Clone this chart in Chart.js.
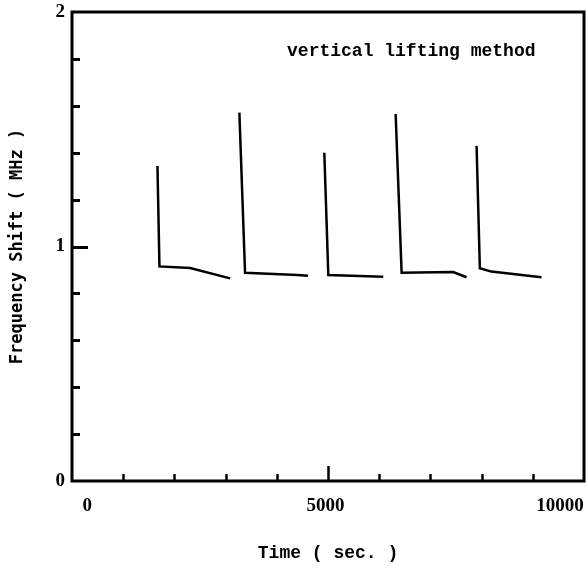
<!DOCTYPE html>
<html>
<head>
<meta charset="utf-8">
<script src="https://cdn.jsdelivr.net/npm/chart.js@4"></script>
<style>
  html, body { margin: 0; padding: 0; background: #fff; }
  #wrap { width: 587px; height: 570px; }
</style>
</head>
<body>
<div id="wrap"><canvas id="c" width="587" height="570"></canvas></div>
<script>
// ---- data (time in sec, frequency shift in MHz) ----
const s1Time  = [1669, 1708, 2307, 3088];
const s1Shift = [1.343, 0.915, 0.908, 0.864];
const s2Time  = [3269, 3380, 4400, 4610];
const s2Shift = [1.571, 0.888, 0.878, 0.875];
const s3Time  = [4928, 5006, 6079];
const s3Shift = [1.400, 0.878, 0.871];
const s4Time  = [6321, 6438, 7445, 7706];
const s4Shift = [1.565, 0.888, 0.891, 0.869];
const s5Time  = [7902, 7966, 8190, 9170];
const s5Shift = [1.429, 0.907, 0.893, 0.869];

// tick labels
const xTickLabels   = ['0', '5000', '10000'];
const xTickLabelAt  = [300, 4950, 9530];
const xTickMarks    = [1000, 2000, 3000, 4000, 5000, 6000, 7000, 8000, 9000];
const xMajorMarks   = [5000];
const yTickLabels   = ['0', '1', '2'];

const annoText = 'vertical lifting method';
const annoX = 4200, annoY = 1.83;

const series = [
  [s1Time, s1Shift], [s2Time, s2Shift], [s3Time, s3Shift],
  [s4Time, s4Shift], [s5Time, s5Shift]
];

const datasets = series.map(([t, f]) => ({
  data: t.map((v, i) => ({ x: v, y: f[i] })),
  showLine: true,
  borderColor: '#000',
  borderWidth: 2.5,
  pointRadius: 0,
  tension: 0,
  fill: false
}));

const decor = {
  id: 'decor',
  afterDraw(chart) {
    const { ctx, chartArea: a, scales: { x, y } } = chart;
    ctx.save();
    ctx.strokeStyle = '#000';
    // y tick marks (inward)
    ctx.lineWidth = 3;
    y.ticks.forEach(t => {
      const v = Math.round(t.value * 10) / 10;
      if (v <= 0 || v >= 2) return;
      const py = Math.round(y.getPixelForValue(v)) + 0.5;
      const len = Number.isInteger(v) ? 16 : 8;
      ctx.beginPath(); ctx.moveTo(a.left, py); ctx.lineTo(a.left + len, py); ctx.stroke();
    });
    // x tick marks (inward)
    ctx.lineWidth = 2.5;
    xTickMarks.forEach(v => {
      const px = Math.round(x.getPixelForValue(v)) + 0.5;
      const len = xMajorMarks.includes(v) ? 15 : 7;
      ctx.beginPath(); ctx.moveTo(px, a.bottom); ctx.lineTo(px, a.bottom - len); ctx.stroke();
    });
    // frame
    ctx.lineWidth = 3;
    ctx.strokeRect(a.left, a.top, a.right - a.left, a.bottom - a.top);
    // annotation
    ctx.fillStyle = '#000';
    ctx.font = 'bold 18px "Liberation Mono", monospace';
    ctx.textAlign = 'left';
    ctx.textBaseline = 'middle';
    ctx.fillText(annoText, x.getPixelForValue(annoX), y.getPixelForValue(annoY));
    ctx.restore();
  }
};

new Chart(document.getElementById('c'), {
  type: 'scatter',
  data: { datasets },
  options: {
    responsive: false,
    animation: false,
    devicePixelRatio: 1,
    layout: { padding: { top: 12, right: 3, left: 0, bottom: 0 } },
    plugins: { legend: { display: false }, tooltip: { enabled: false } },
    scales: {
      x: {
        type: 'linear',
        min: 0, max: 10000,
        grid: { display: false, drawTicks: true, tickLength: 14 },
        border: { display: false },
        afterBuildTicks(axis) { axis.ticks = xTickLabelAt.map(v => ({ value: v })); },
        afterFit(axis) { axis.height = 89; },
        ticks: {
          autoSkip: false,
          maxRotation: 0,
          padding: 0,
          color: '#000',
          font: { family: '"Liberation Serif", serif', size: 19, weight: 'bold' },
          callback: (v, i) => xTickLabels[i]
        },
        title: {
          display: true,
          text: 'Time ( sec. )',
          color: '#000',
          font: { family: '"Liberation Mono", monospace', size: 18, weight: 'bold' },
          padding: { top: 0, bottom: 6 }
        }
      },
      y: {
        type: 'linear',
        min: 0, max: 2,
        grid: { display: false, drawTicks: true, tickLength: 7 },
        border: { display: false },
        afterFit(axis) { axis.width = 72; },
        ticks: {
          stepSize: 0.2,
          autoSkip: false,
          padding: 0,
          color: '#000',
          font: { family: '"Liberation Serif", serif', size: 19, weight: 'bold' },
          callback: v => {
            const r = Math.round(v * 10) / 10;
            return Number.isInteger(r) ? yTickLabels[r] : '';
          }
        },
        title: {
          display: true,
          text: 'Frequency Shift ( MHz )',
          color: '#000',
          font: { family: '"DejaVu Sans Mono", monospace', size: 17, weight: 'bold' },
          padding: { top: 7, bottom: 0 }
        }
      }
    }
  },
  plugins: [decor]
});
</script>
</body>
</html>
